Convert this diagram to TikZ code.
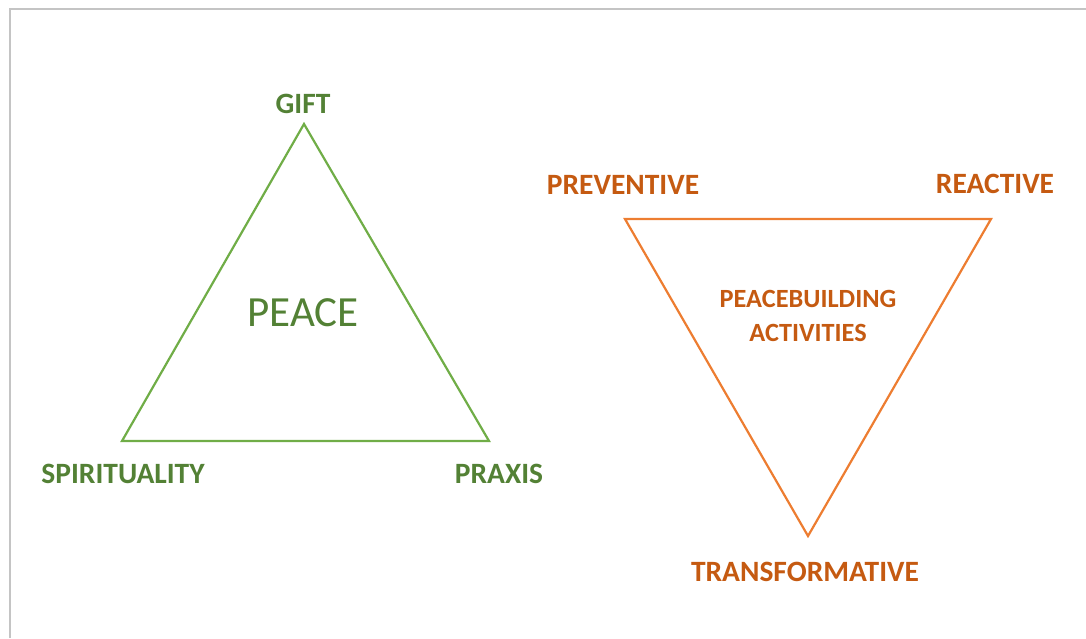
\documentclass[tikz,border=0pt]{standalone}
\usepackage{fontspec}
\setmainfont{Carlito}
\usetikzlibrary{positioning}
\definecolor{leafline}{HTML}{70AD47}
\definecolor{leaftext}{HTML}{538135}
\definecolor{rustline}{HTML}{ED7D31}
\definecolor{rusttext}{HTML}{C55A11}
\definecolor{frame}{HTML}{C4C4C4}

\begin{document}
\begin{tikzpicture}[x=1pt, y=-1pt]
      \tikzstyle{greenlabel} = [text=leaftext, font=\fontsize{29.5}{34}\selectfont\bfseries, inner sep=0pt]
      \tikzstyle{orangelabel} = [text=rusttext, font=\fontsize{29.5}{34}\selectfont\bfseries, inner sep=0pt]
      \tikzstyle{greentri} = [draw=leafline, line width=2.2pt, line join=miter]
      \tikzstyle{orangetri} = [draw=rustline, line width=2.2pt, line join=miter]

      \useasboundingbox (0,0) rectangle (1086,638);
      \draw [frame, line width=2.2pt] (10,638) -- (10,9) -- (1086,9);

      % peace triangle
      \coordinate (apex) at (304,124);
      \coordinate (left) at (122,441);
      \coordinate (right) at (489,441);
      \draw [greentri] (apex) -- (right) -- (left) -- cycle;

      \node (gift) [greenlabel] at (303,104) {GIFT};
      \node (spirit) [greenlabel] at (123,474) {SPIRITUALITY};
      \node (praxis) [greenlabel] at (499,474) {PRAXIS};
      \node (peace) [text=leaftext, font=\fontsize{43}{50}\selectfont, inner sep=0pt] at (303,313) {PEACE};

      % peacebuilding triangle
      \coordinate (topl) at (625,219);
      \coordinate (topr) at (991,219);
      \coordinate (bottom) at (808,536);
      \draw [orangetri] (topl) -- (topr) -- (bottom) -- cycle;

      \node (prev) [orangelabel] at (623,185) {PREVENTIVE};
      \node (react) [orangelabel] at (995,184) {REACTIVE};
      \node (trans) [orangelabel] at (805,572) {TRANSFORMATIVE};
      \node (build) [text=rusttext, font=\fontsize{26.3}{34}\selectfont\bfseries, align=center, inner sep=0pt] at (808,316) {PEACEBUILDING\\ACTIVITIES};

    \end{tikzpicture}
\end{document}
